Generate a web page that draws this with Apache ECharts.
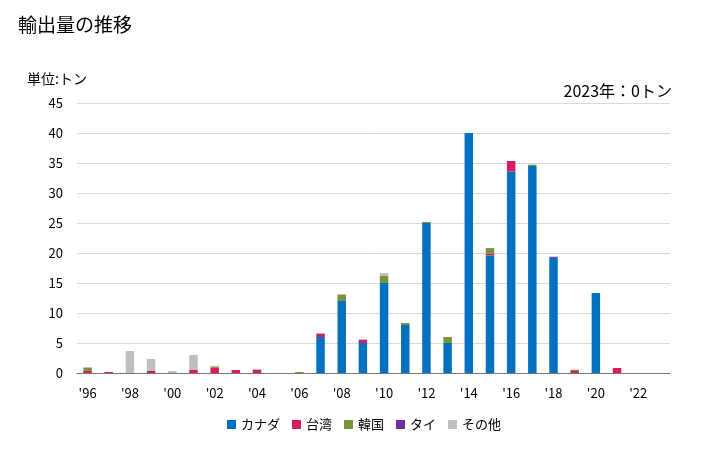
<!DOCTYPE html>
<html><head><meta charset="utf-8">
<script src="https://cdn.jsdelivr.net/npm/echarts@6/dist/echarts.min.js"></script>
<style>html,body{margin:0;padding:0;background:#fff}#c{width:728px;height:450px}</style>
</head><body><div id="c"></div>
<script>
const years = ['1996','1997','1998','1999','2000','2001','2002','2003','2004','2005','2006','2007','2008','2009','2010','2011','2012','2013','2014','2015','2016','2017','2018','2019','2020','2021','2022','2023'];
const canada = [0,0,0,0,0,0,0,0,0,0,0,6.0,12.0,5.0,15.0,8.0,25.0,5.0,40.0,19.6,33.55,34.5,19.2,0,13.33,0,0,0];
const taiwan = [0.33,0.17,0,0.33,0,0.5,0.85,0.5,0.5,0,0,0.5,0,0.5,0,0,0,0,0,0.28,1.78,0,0,0.33,0,0.83,0,0];
const korea  = [0.5,0,0,0,0,0,0.15,0,0,0,0.17,0,1.0,0,1.17,0.33,0.17,1.0,0,0.94,0,0.22,0,0.22,0,0,0,0];
const thai   = [0,0,0,0,0,0,0,0,0,0,0,0,0,0,0,0,0,0,0,0,0,0,0.17,0,0,0,0,0];
const other  = [0.17,0,3.67,2.0,0.33,2.5,0.2,0,0.17,0,0,0.17,0.17,0.17,0.5,0,0,0,0,0,0,0,0,0,0,0,0,0];
const yTicks = [0,5,10,15,20,25,30,35,40,45];
const seriesNames = ['カナダ','台湾','韓国','タイ','その他'];
const colors = ['#0070C0','#D81B60','#77933C','#7030A0','#BFBFBF'];
const dataSets = [canada, taiwan, korea, thai, other];
const font = '"Noto Sans CJK JP", sans-serif';
const chart = echarts.init(document.getElementById('c'));
chart.setOption({
  animation:false,
  textStyle:{fontFamily:font},
  title:[
    {text:'輸出量の推移',left:13,top:10,textStyle:{fontSize:19,fontWeight:'normal',color:'#000',fontFamily:font}},
    {text:'単位:トン',left:22,top:67,textStyle:{fontSize:14,fontWeight:'normal',color:'#000',fontFamily:font}},
    {text:'2023年：0トン',right:51,top:78,textStyle:{fontSize:16,fontWeight:'normal',color:'#000',fontFamily:font}}
  ],
  legend:{bottom:14,left:'center',itemWidth:9,itemHeight:9,itemGap:12,icon:'rect',
    textStyle:{fontSize:13,color:'#000',fontFamily:font},data:seriesNames},
  grid:{left:77,right:58,top:103,bottom:77},
  xAxis:{type:'category',data:years,
    axisLine:{lineStyle:{color:'#777'}},axisTick:{show:false},
    axisLabel:{interval:1,color:'#000',fontSize:13,margin:14,formatter:v=>"'"+v.slice(2)}},
  yAxis:{type:'value',min:0,max:45,interval:5,
    axisLine:{show:false},axisTick:{show:false},
    splitLine:{lineStyle:{color:'#d9d9d9'}},
    axisLabel:{color:'#000',fontSize:13,margin:14,formatter:v=>yTicks.includes(v)?String(v):''}},
  series: dataSets.map((d,i)=>({name:seriesNames[i],type:'bar',stack:'a',data:d,barWidth:'40%',
    itemStyle:{color:colors[i]}}))
});
</script></body></html>
